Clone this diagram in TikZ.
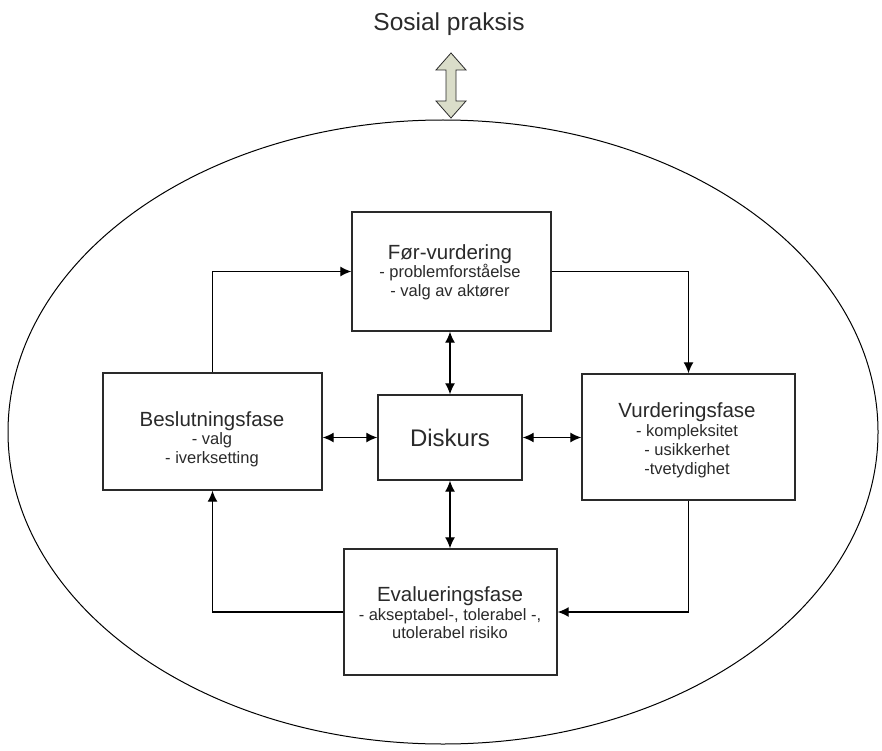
\documentclass[tikz,border=0pt]{standalone}
\usepackage{fontspec}
\setmainfont{Liberation Sans}
\usetikzlibrary{arrows.meta,calc}
\definecolor{lineg}{HTML}{2A2A2A}
\definecolor{arrfill}{HTML}{DADDC9}
\begin{document}
\begin{tikzpicture}[x=1pt,y=-1pt,
  boxst/.style={draw=lineg,line width=1.4pt,fill=white,rectangle,inner sep=0pt},
  conn/.style={draw=black,line width=1.3pt,-{Latex[length=11pt,width=10pt]}},
  dconn/.style={draw=black,line width=1.3pt,{Latex[length=11pt,width=10pt]}-{Latex[length=11pt,width=10pt]}},
  txt/.style={align=center,inner sep=0pt,text=lineg,font=\fontsize{16.5}{18.5}\selectfont}]
\newcommand{\ttlsz}{\fontsize{20.5}{22}\selectfont}
\useasboundingbox (0,0) rectangle (882,751);
\fill[white] (0,0) rectangle (882,751);
% ellipse
\draw[black,line width=1pt] (443,432) ellipse [x radius=435, y radius=312];
% title
\node[txt,font=\fontsize{24.5}{26}\selectfont] (sp) at (449,24) {Sosial praksis};
% fat double arrow
\draw[fill=arrfill,draw=lineg,line width=0.8pt]
  (451,53) -- (466,70) -- (456,70) -- (456,101) -- (466,101) -- (451,118)
  -- (436,101) -- (446,101) -- (446,70) -- (436,70) -- cycle;
% boxes
\node[boxst,minimum width=199pt,minimum height=119pt] (tb) at (451.5,271.5) {};
\node[boxst,minimum width=219pt,minimum height=117pt] (lb) at (212.5,431.5) {};
\node[boxst,minimum width=144pt,minimum height=85pt] (dk) at (450,437.5) {};
\node[boxst,minimum width=213pt,minimum height=126pt] (rb) at (688.5,437) {};
\node[boxst,minimum width=213pt,minimum height=126pt] (bb) at (450.5,612) {};
% texts
\node[txt] (tbt) at (450,272) {{\ttlsz Før-vurdering}\\ - problemforståelse\\ - valg av aktører};
\node[txt] (lbt) at (212,439) {{\ttlsz Beslutningsfase}\\ - valg\\ - iverksetting};
\node[txt,font=\fontsize{24}{26}\selectfont] (dkt) at (450,438) {Diskurs};
\node[txt,font=\fontsize{16.5}{19}\selectfont] (rbt) at (687,440) {{\ttlsz Vurderingsfase}\\ - kompleksitet\\ - usikkerhet\\ -tvetydighet};
\node[txt] (bbt) at (450,613) {{\ttlsz Evalueringsfase}\\ - akseptabel-, tolerabel -,\\ utolerabel risiko};
% cycle connectors
\draw[conn] (lb.north) |- (tb.west);
\draw[conn] (tb.east) -| (rb.north);
\draw[conn] (rb.south) |- (bb.east);
\draw[conn] (bb.west) -| (lb.south);
% discourse connectors
\draw[dconn] (tb.south -| dk.north) -- (dk.north);
\draw[dconn] (dk.south) -- (dk.south |- bb.north);
\draw[dconn] (dk.west) -- (dk.west -| lb.east);
\draw[dconn] (dk.east) -- (dk.east -| rb.west);
\end{tikzpicture}
\end{document}
